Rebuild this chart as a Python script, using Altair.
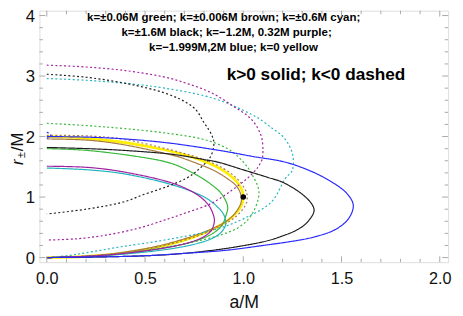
import altair as alt
import pandas as pd

# ---- curve data (a/M, r/M), traced around each loop ----
YEL_A = [0, 0.2, 0.4, 0.6, 0.75, 0.87, 0.95, 0.99, 1.0, 0.99, 0.95, 0.87, 0.75, 0.6, 0.4, 0.2, 0]
YEL_R = [2.0, 1.97, 1.90, 1.78, 1.65, 1.49, 1.31, 1.14, 1.0, 0.86, 0.69, 0.51, 0.34, 0.20, 0.08, 0.02, 0]

BRS_A = [0, 0.21, 0.4, 0.63, 0.72, 0.85, 0.93, 0.97, 0.99, 0.98, 0.93, 0.85, 0.72, 0.55, 0.35, 0.18, 0]
BRS_R = [1.96, 1.94, 1.86, 1.70, 1.61, 1.44, 1.28, 1.16, 1.0, 0.84, 0.64, 0.49, 0.33, 0.18, 0.07, 0.02, 0]
BRD_A = [0, 0.21, 0.4, 0.63, 0.8, 0.9, 0.97, 1.01, 1.02, 1.01, 0.96, 0.88, 0.76, 0.6, 0.4, 0.2, 0]
BRD_R = [2.02, 2.01, 1.95, 1.78, 1.62, 1.47, 1.30, 1.12, 1.0, 0.86, 0.67, 0.51, 0.35, 0.20, 0.08, 0.02, 0]

GRS_A = [0, 0.21, 0.46, 0.63, 0.76, 0.84, 0.89, 0.92, 0.91, 0.89, 0.84, 0.75, 0.6, 0.4, 0.2, 0]
GRS_R = [1.80, 1.77, 1.67, 1.56, 1.37, 1.20, 1.05, 0.85, 0.68, 0.53, 0.39, 0.27, 0.16, 0.07, 0.02, 0]
GRD_A = [0, 0.21, 0.4, 0.6, 0.79, 0.92, 1.0, 1.05, 1.08, 1.05, 0.99, 0.90, 0.75, 0.6, 0.4, 0.2, 0]
GRD_R = [2.22, 2.18, 2.13, 2.06, 1.96, 1.80, 1.58, 1.34, 1.07, 0.75, 0.53, 0.39, 0.26, 0.17, 0.08, 0.02, 0]

PUS_A = [0, 0.21, 0.4, 0.62, 0.75, 0.82, 0.85, 0.85, 0.83, 0.77, 0.65, 0.45, 0.25, 0]
PUS_R = [1.51, 1.49, 1.41, 1.25, 1.07, 0.88, 0.68, 0.55, 0.42, 0.30, 0.19, 0.09, 0.03, 0]
PUD_A = [0, 0.2, 0.4, 0.59, 0.72, 0.84, 0.95, 1.04, 1.09, 1.10, 1.09, 1.05, 0.97, 0.84, 0.69, 0.59, 0.46, 0.30, 0.15, 0]
PUD_R = [3.18, 3.15, 3.09, 2.99, 2.87, 2.72, 2.50, 2.29, 2.02, 1.75, 1.58, 1.40, 1.18, 0.90, 0.72, 0.61, 0.48, 0.37, 0.31, 0.29]

CYS_A = [0, 0.21, 0.4, 0.62, 0.79, 0.88, 0.91, 0.90, 0.85, 0.75, 0.6, 0.4, 0.2, 0]
CYS_R = [1.48, 1.45, 1.38, 1.22, 1.02, 0.80, 0.62, 0.47, 0.33, 0.22, 0.13, 0.06, 0.015, 0]
CYD_A = [0, 0.2, 0.4, 0.6, 0.84, 1.04, 1.15, 1.21, 1.25, 1.25, 1.21, 1.14, 1.0, 0.84, 0.6, 0.38, 0.2, 0.1, 0]
CYD_R = [2.96, 2.93, 2.88, 2.80, 2.64, 2.37, 2.13, 1.97, 1.72, 1.45, 1.29, 0.91, 0.64, 0.45, 0.29, 0.18, 0.08, 0.03, 0]

BKS_A = [0, 0.21, 0.4, 0.63, 0.8, 0.88, 1.0, 1.12, 1.21, 1.31, 1.36, 1.33, 1.28, 1.21, 1.1, 0.91, 0.7, 0.5, 0.25, 0]
BKS_R = [1.82, 1.80, 1.77, 1.71, 1.62, 1.57, 1.45, 1.33, 1.23, 1.02, 0.80, 0.60, 0.47, 0.37, 0.26, 0.15, 0.07, 0.03, 0.01, 0]
BKD_A = [0, 0.2, 0.4, 0.6, 0.74, 0.80, 0.84, 0.85, 0.83, 0.77, 0.71, 0.61, 0.5, 0.38, 0.2, 0]
BKD_R = [3.03, 2.98, 2.88, 2.72, 2.50, 2.23, 2.02, 1.86, 1.65, 1.45, 1.31, 1.17, 1.05, 0.91, 0.80, 0.72]

BLS_A = [0, 0.21, 0.4, 0.63, 0.88, 1.05, 1.21, 1.35, 1.46, 1.53, 1.56, 1.53, 1.46, 1.36, 1.25, 1.1, 0.91, 0.7, 0.5, 0.25, 0]
BLS_R = [2.0, 1.99, 1.96, 1.89, 1.77, 1.67, 1.58, 1.42, 1.23, 1.05, 0.85, 0.62, 0.45, 0.34, 0.27, 0.20, 0.12, 0.07, 0.03, 0.01, 0]
BLD_A = [0, 0.015, 0.02, 0.015, 0]
BLD_R = [2.07, 2.05, 2.02, 1.99, 1.97]

CURVES = [
    ("green", "solid", GRS_A, GRS_R), ("green", "dashed", GRD_A, GRD_R),
    ("brown", "solid", BRS_A, BRS_R), ("brown", "dashed", BRD_A, BRD_R),
    ("cyan", "solid", CYS_A, CYS_R), ("cyan", "dashed", CYD_A, CYD_R),
    ("black", "solid", BKS_A, BKS_R), ("black", "dashed", BKD_A, BKD_R),
    ("purple", "solid", PUS_A, PUS_R), ("purple", "dashed", PUD_A, PUD_R),
    ("blue", "solid", BLS_A, BLS_R), ("blue", "dashed", BLD_A, BLD_R),
]
COLOR_NAMES = ["green", "brown", "cyan", "black", "purple", "blue", "yellow"]
COLOR_VALUES = ["#38b838", "#a87a42", "#22b4bc", "#1e1e1e", "#a020a0", "#2a2aff", "#ffee00"]

EXTREMAL_A = [1.0]
EXTREMAL_R = [1.0]

X_MAJOR = [0, 0.5, 1.0, 1.5, 2.0]
X_MINOR = [0.1, 0.2, 0.3, 0.4, 0.6, 0.7, 0.8, 0.9, 1.1, 1.2, 1.3, 1.4, 1.6, 1.7, 1.8, 1.9]
Y_MAJOR = [0, 1, 2, 3, 4]
Y_MINOR = [0.2, 0.4, 0.6, 0.8, 1.2, 1.4, 1.6, 1.8, 2.2, 2.4, 2.6, 2.8, 3.2, 3.4, 3.6, 3.8]

NOTES = ["k=±0.06M green; k=±0.006M brown; k=±0.6M cyan;",
         "k=±1.6M black; k=−1.2M, 0.32M purple;",
         "k=−1.999M,2M blue; k=0 yellow",
         "k>0 solid; k<0 dashed"]
NOTE_A = [0.90, 0.915, 0.95, 1.37]
NOTE_R = [3.98, 3.73, 3.48, 3.02]
NOTE_SIZE = [11.7, 11.7, 11.7, 17.5]

W, H = 416, 256
XDOM = [-0.0375, 2.0425]
YDOM = [-0.076, 4.08]
FONT = "Liberation Sans"

rows = []
for color, style, A, R in CURVES:
    for i, (a, r) in enumerate(zip(A, R)):
        rows.append({"curve": color + "-" + style, "color": color, "style": style, "i": i, "a": a, "r": r})
df = pd.DataFrame(rows)
ydf = pd.DataFrame({"a": YEL_A, "r": YEL_R, "i": list(range(len(YEL_A))), "color": "yellow"})

xs = alt.Scale(domain=XDOM, nice=False, zero=False)
ys = alt.Scale(domain=YDOM, nice=False, zero=False)
cscale = alt.Scale(domain=COLOR_NAMES, range=COLOR_VALUES)

XAXIS = alt.Axis(values=X_MAJOR, format=".1f", ticks=False, domain=False, grid=False,
                 labelFontSize=16.5, labelFont=FONT, labelColor="#111", labelPadding=9,
                 title="a/M", titleFont=FONT, titleFontSize=18, titleFontWeight="normal",
                 titleColor="#111", titlePadding=7)
YAXIS = alt.Axis(values=Y_MAJOR, format="d", ticks=False, domain=False, grid=False,
                 labelFontSize=17, labelFont=FONT, labelColor="#111", labelPadding=5,
                 labelOffset=1, title="")


def X(field):
    return alt.X(field, scale=xs, axis=XAXIS)


def Y(field):
    return alt.Y(field, scale=ys, axis=YAXIS)


yellow = alt.Chart(ydf).mark_line(strokeWidth=2.6, interpolate="cardinal").encode(
    x=X("a:Q"), y=Y("r:Q"), order="i:Q",
    color=alt.Color("color:N", scale=cscale, legend=None))

lines = alt.Chart(df).mark_line(strokeWidth=1.2, interpolate="cardinal").encode(
    x=X("a:Q"), y=Y("r:Q"),
    order="i:Q",
    detail="curve:N",
    color=alt.Color("color:N", scale=cscale, legend=None),
    strokeDash=alt.StrokeDash("style:N", scale=alt.Scale(domain=["solid", "dashed"], range=[[1, 0], [2, 2.4]]), legend=None))

dot = alt.Chart(pd.DataFrame({"a": EXTREMAL_A, "r": EXTREMAL_R})).mark_point(
    filled=True, color="black", size=32, opacity=1).encode(x=X("a:Q"), y=Y("r:Q"))

notes = alt.Chart(pd.DataFrame({"t": NOTES, "a": NOTE_A, "r": NOTE_R, "s": NOTE_SIZE})).mark_text(
    font=FONT, fontWeight="bold", color="black", align="center", baseline="middle").encode(
    x=X("a:Q"), y=Y("r:Q"), text="t:N", size=alt.Size("s:Q", scale=None))

tick_col = "#a8a8a8"
ticks = []
for vals, L in ((X_MAJOR, 6), (X_MINOR, 3.5)):
    xv = pd.DataFrame({"a": vals})
    ticks.append(alt.Chart(xv).mark_rule(color=tick_col, strokeWidth=1).encode(
        x=X("a:Q"), y=alt.value(H), y2=alt.value(H - L)))
    ticks.append(alt.Chart(xv).mark_rule(color=tick_col, strokeWidth=1).encode(
        x=X("a:Q"), y=alt.value(0), y2=alt.value(L)))
for vals, L in ((Y_MAJOR, 6), (Y_MINOR, 3.5)):
    yv = pd.DataFrame({"r": vals})
    ticks.append(alt.Chart(yv).mark_rule(color=tick_col, strokeWidth=1).encode(
        y=Y("r:Q"), x=alt.value(0), x2=alt.value(L)))
    ticks.append(alt.Chart(yv).mark_rule(color=tick_col, strokeWidth=1).encode(
        y=Y("r:Q"), x=alt.value(W), x2=alt.value(W - L)))

TX = -22
ytitle = [
    alt.Chart(pd.DataFrame({"t": ["r"]})).mark_text(font=FONT, fontStyle="italic", fontSize=17, angle=270,
                                                    align="left", baseline="middle", color="#111").encode(
        text="t:N", x=alt.value(TX), y=alt.value(157)),
    alt.Chart(pd.DataFrame({"t": ["±"]})).mark_text(font=FONT, fontSize=11, angle=270,
                                                    align="left", baseline="middle", color="#111").encode(
        text="t:N", x=alt.value(TX + 4), y=alt.value(150)),
    alt.Chart(pd.DataFrame({"t": ["/M"]})).mark_text(font=FONT, fontSize=17, angle=270,
                                                     align="left", baseline="middle", color="#111").encode(
        text="t:N", x=alt.value(TX), y=alt.value(143)),
]

chart = alt.layer(yellow, lines, dot, notes, *ticks, *ytitle).properties(
    width=W, height=H, autosize=alt.AutoSizeParams(type="none"),
    padding={"left": 32, "top": 0, "right": 7, "bottom": 50}
).configure_view(stroke="#b0b0b0", strokeWidth=1).configure(background="white")

chart.save("out.html", embed_options={"renderer": "svg", "actions": False})
